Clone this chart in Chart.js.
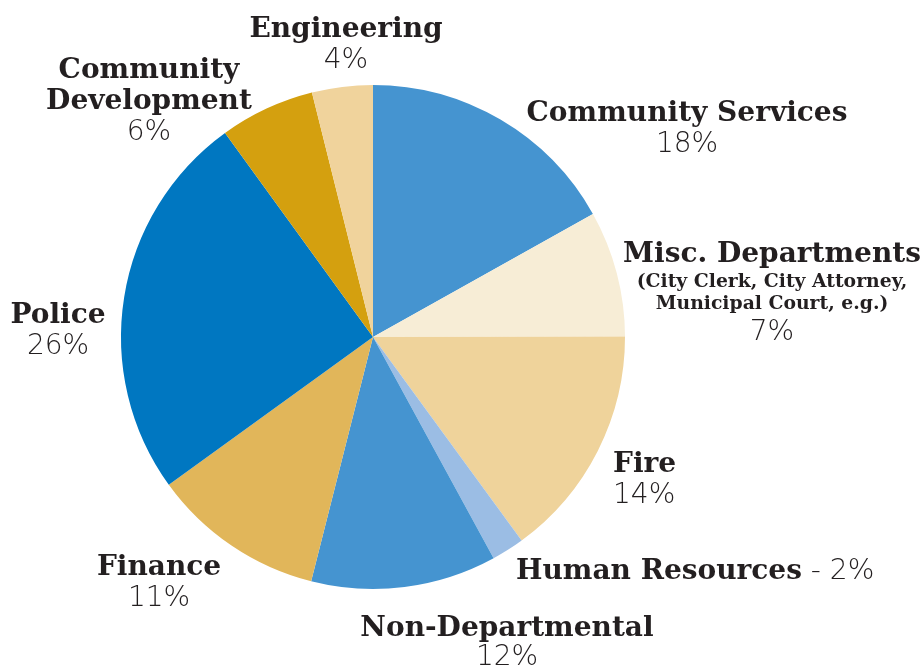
<!DOCTYPE html>
<html>
<head>
<meta charset="utf-8">
<script src="https://cdn.jsdelivr.net/npm/chart.js@4.4.0/dist/chart.umd.min.js"></script>
<style>
  html, body { margin: 0; padding: 0; background: #ffffff; }
  #wrap { width: 921px; height: 670px; }
</style>
</head>
<body>
<div id="wrap"><canvas id="c" width="921" height="670"></canvas></div>
<script>
// Departments (clockwise from 12 o'clock)
const categories = ["Community Services", "Misc. Departments", "Fire", "Human Resources",
  "Non-Departmental", "Finance", "Police", "Community Development", "Engineering"];
// Share of budget (%)
const shares = [16.9, 8.1, 15.0, 2.1, 11.9, 11.1, 25.0, 6.1, 3.9];
// Printed percentage labels
const shareLabels = ["18%", "7%", "14%", "2%", "12%", "11%", "26%", "6%", "4%"];
const colors = ["#4594d0", "#f7edd6", "#efd39b", "#9bbde4", "#4594d0", "#e1b65a", "#0077c1", "#d4a00f", "#f0d39c"];

const BOLD = "bold 28px 'DejaVu Serif'";
const SMALLBOLD = "bold 18.8px 'DejaVu Serif'";
const LIGHT = "200 28px 'DejaVu Sans'";

// label layout: lines of segments; x,y = anchor, align
const labelLayout = [
  { align: "center", x: 687, y: 121, lines: [[[BOLD, "Community Services"]], [[LIGHT, "%"]]] },
  { align: "center", x: 772, y: 262, lines: [[[BOLD, "Misc. Departments"]], [[SMALLBOLD, "(City Clerk, City Attorney,"]], [[SMALLBOLD, "Municipal Court, e.g.)"]], [[LIGHT, "%"]]], gaps: [25, 22, 31] },
  { align: "left", x: 613, y: 472, lines: [[[BOLD, "Fire"]], [[LIGHT, "%"]]] },
  { align: "left", x: 516, y: 579, lines: [[[BOLD, "Human Resources"], [LIGHT, " - %"]]] },
  { align: "center", x: 507, y: 636, lines: [[[BOLD, "Non-Departmental"]], [[LIGHT, "%"]]], gaps: [29] },
  { align: "center", x: 159, y: 575, lines: [[[BOLD, "Finance"]], [[LIGHT, "%"]]] },
  { align: "center", x: 58, y: 323, lines: [[[BOLD, "Police"]], [[LIGHT, "%"]]] },
  { align: "center", x: 149, y: 78, lines: [[[BOLD, "Community"]], [[BOLD, "Development"]], [[LIGHT, "%"]]] },
  { align: "center", x: 346, y: 37, lines: [[[BOLD, "Engineering"]], [[LIGHT, "%"]]] }
];

const labelPlugin = {
  id: "deptLabels",
  afterDraw(chart) {
    const ctx = chart.ctx;
    ctx.save();
    ctx.fillStyle = "#231f20";
    ctx.textBaseline = "alphabetic";
    labelLayout.forEach((L, i) => {
      let y = L.y;
      L.lines.forEach((line, li) => {
        const segs = line.map(([font, txt]) => [font, txt.replace("%", shareLabels[i])]);
        let total = 0;
        segs.forEach(([font, txt]) => { ctx.font = font; total += ctx.measureText(txt).width; });
        let x = L.align === "center" ? L.x - total / 2 : L.x;
        ctx.textAlign = "left";
        segs.forEach(([font, txt]) => {
          ctx.font = font;
          ctx.fillText(txt, x, y);
          x += ctx.measureText(txt).width;
        });
        y += (L.gaps ? L.gaps[li] : 31);
      });
    });
    ctx.restore();
  }
};

new Chart(document.getElementById("c"), {
  type: "pie",
  data: {
    labels: categories,
    datasets: [{ data: shares, backgroundColor: colors, borderWidth: 0 }]
  },
  options: {
    responsive: false,
    animation: false,
    layout: { padding: { left: 121, right: 296, top: 85, bottom: 81 } },
    plugins: { legend: { display: false }, tooltip: { enabled: false } }
  },
  plugins: [labelPlugin]
});
</script>
</body>
</html>
